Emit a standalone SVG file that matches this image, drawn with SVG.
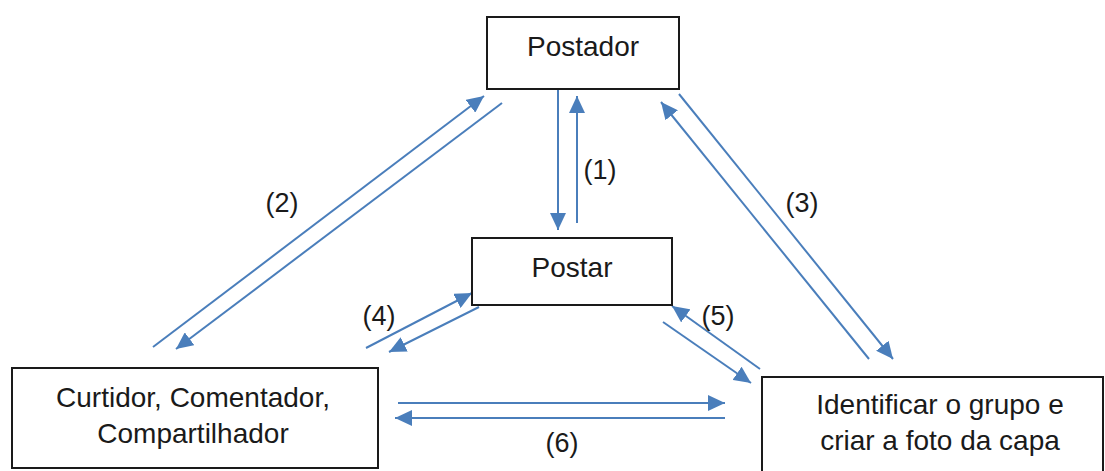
<svg xmlns="http://www.w3.org/2000/svg" width="1105" height="471" viewBox="0 0 1105 471">
  <style>
    .box { fill: #ffffff; stroke: #1a1a1a; stroke-width: 2; }
    .lbl { font-family: "Liberation Sans", Arial, sans-serif; font-size: 28px; fill: #1a1a1a; text-anchor: middle; }
    .num { font-family: "Liberation Sans", Arial, sans-serif; font-size: 27px; fill: #1a1a1a; text-anchor: middle; }
    .conn { stroke: #4a7ebb; stroke-width: 2; fill: none; marker-end: url(#head); }
  </style>
  <defs>
    <marker id="head" markerUnits="userSpaceOnUse" markerWidth="17" markerHeight="16" refX="17" refY="8" orient="auto">
      <path d="M0,0 L17,8 L0,16 z" fill="#4a7ebb"/>
    </marker>
  </defs>
  <rect width="1105" height="471" fill="#ffffff"/>

  <!-- connectors -->
  <g id="connectors">
    <!-- (1) Postador <-> Postar -->
    <line class="conn" x1="558" y1="89" x2="558" y2="230"/>
    <line class="conn" x1="577" y1="223" x2="577" y2="96"/>
    <!-- (2) Curtidor <-> Postador -->
    <line class="conn" x1="153" y1="347" x2="484" y2="96"/>
    <line class="conn" x1="502" y1="103" x2="176" y2="349"/>
    <!-- (3) Postador <-> Identificar -->
    <line class="conn" x1="679" y1="94" x2="893" y2="359"/>
    <line class="conn" x1="869" y1="359" x2="661" y2="102"/>
    <!-- (4) Curtidor <-> Postar -->
    <line class="conn" x1="366" y1="348" x2="472" y2="293"/>
    <line class="conn" x1="479" y1="307" x2="389" y2="352"/>
    <!-- (5) Postar <-> Identificar -->
    <line class="conn" x1="663" y1="322" x2="751" y2="383"/>
    <line class="conn" x1="760" y1="369" x2="672" y2="306"/>
    <!-- (6) Curtidor <-> Identificar -->
    <line class="conn" x1="398" y1="403" x2="725" y2="403"/>
    <line class="conn" x1="725" y1="418" x2="395" y2="418"/>
  </g>

  <!-- connector labels -->
  <g id="labels">
    <text class="num" x="600" y="179">(1)</text>
    <text class="num" x="282" y="212">(2)</text>
    <text class="num" x="802" y="212">(3)</text>
    <text class="num" x="379" y="325">(4)</text>
    <text class="num" x="718" y="325">(5)</text>
    <text class="num" x="562" y="452">(6)</text>
  </g>

  <g id="postador">
    <rect class="box" x="487" y="17" width="192" height="72"/>
    <text class="lbl" x="583" y="56">Postador</text>
  </g>

  <g id="postar">
    <rect class="box" x="472" y="238" width="200" height="67"/>
    <text class="lbl" x="572" y="277">Postar</text>
  </g>

  <g id="curtidor">
    <rect class="box" x="12" y="368" width="366" height="100"/>
    <text class="lbl" x="193" y="407" font-size="29">Curtidor, Comentador,</text>
    <text class="lbl" x="193" y="443" font-size="29">Compartilhador</text>
  </g>

  <g id="identificar">
    <rect class="box" x="762" y="377" width="341" height="100"/>
    <text class="lbl" x="940" y="414" font-size="27">Identificar o grupo e</text>
    <text class="lbl" x="940" y="450" font-size="27">criar a foto da capa</text>
  </g>
</svg>
